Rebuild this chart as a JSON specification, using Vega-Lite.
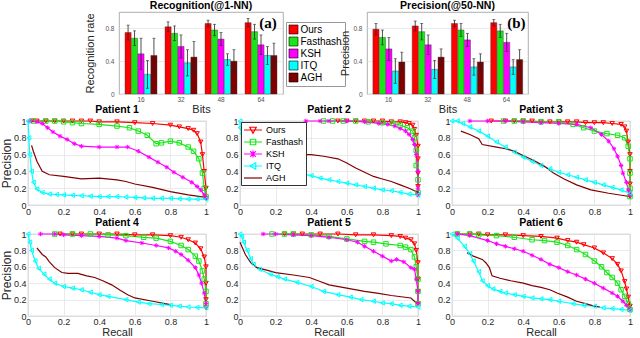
{
"$schema": "https://vega.github.io/schema/vega-lite/v6.json",
"padding": {"left": 0, "top": 0, "right": 2, "bottom": 0},
"background": "white",
"config": {
  "font": "Liberation Sans",
  "view": {"stroke": "#9a9a9a", "strokeWidth": 0.8},
  "axis": {"domain": false, "ticks": false, "gridColor": "#e4e4e4", "gridWidth": 0.8, "labelColor": "#262626", "titleColor": "#262626", "titleFontWeight": "normal"},
  "title": {"fontSize": 10.5, "fontWeight": "bold", "offset": 1, "color": "#000"}
},
"datasets": {
"bars": [
{"c":"a","bits":"16","m":"Ours","v":0.75,"lo":0.66,"hi":0.84},
{"c":"a","bits":"16","m":"Fasthash","v":0.68,"lo":0.59,"hi":0.77},
{"c":"a","bits":"16","m":"KSH","v":0.49,"lo":0.30,"hi":0.68},
{"c":"a","bits":"16","m":"ITQ","v":0.24,"lo":0.07,"hi":0.41},
{"c":"a","bits":"16","m":"AGH","v":0.47,"lo":0.26,"hi":0.68},
{"c":"a","bits":"32","m":"Ours","v":0.82,"lo":0.76,"hi":0.88},
{"c":"a","bits":"32","m":"Fasthash","v":0.74,"lo":0.65,"hi":0.83},
{"c":"a","bits":"32","m":"KSH","v":0.58,"lo":0.44,"hi":0.72},
{"c":"a","bits":"32","m":"ITQ","v":0.38,"lo":0.22,"hi":0.54},
{"c":"a","bits":"32","m":"AGH","v":0.45,"lo":0.26,"hi":0.64},
{"c":"a","bits":"48","m":"Ours","v":0.86,"lo":0.82,"hi":0.90},
{"c":"a","bits":"48","m":"Fasthash","v":0.78,"lo":0.71,"hi":0.85},
{"c":"a","bits":"48","m":"KSH","v":0.67,"lo":0.59,"hi":0.75},
{"c":"a","bits":"48","m":"ITQ","v":0.42,"lo":0.35,"hi":0.49},
{"c":"a","bits":"48","m":"AGH","v":0.40,"lo":0.26,"hi":0.54},
{"c":"a","bits":"64","m":"Ours","v":0.87,"lo":0.82,"hi":0.92},
{"c":"a","bits":"64","m":"Fasthash","v":0.76,"lo":0.67,"hi":0.85},
{"c":"a","bits":"64","m":"KSH","v":0.60,"lo":0.48,"hi":0.72},
{"c":"a","bits":"64","m":"ITQ","v":0.47,"lo":0.36,"hi":0.58},
{"c":"a","bits":"64","m":"AGH","v":0.47,"lo":0.32,"hi":0.62},
{"c":"b","bits":"16","m":"Ours","v":0.79,"lo":0.72,"hi":0.86},
{"c":"b","bits":"16","m":"Fasthash","v":0.69,"lo":0.60,"hi":0.78},
{"c":"b","bits":"16","m":"KSH","v":0.55,"lo":0.41,"hi":0.69},
{"c":"b","bits":"16","m":"ITQ","v":0.28,"lo":0.13,"hi":0.43},
{"c":"b","bits":"16","m":"AGH","v":0.39,"lo":0.27,"hi":0.51},
{"c":"b","bits":"32","m":"Ours","v":0.83,"lo":0.77,"hi":0.89},
{"c":"b","bits":"32","m":"Fasthash","v":0.76,"lo":0.66,"hi":0.86},
{"c":"b","bits":"32","m":"KSH","v":0.60,"lo":0.48,"hi":0.72},
{"c":"b","bits":"32","m":"ITQ","v":0.30,"lo":0.19,"hi":0.41},
{"c":"b","bits":"32","m":"AGH","v":0.45,"lo":0.35,"hi":0.55},
{"c":"b","bits":"48","m":"Ours","v":0.86,"lo":0.82,"hi":0.90},
{"c":"b","bits":"48","m":"Fasthash","v":0.78,"lo":0.70,"hi":0.86},
{"c":"b","bits":"48","m":"KSH","v":0.66,"lo":0.58,"hi":0.74},
{"c":"b","bits":"48","m":"ITQ","v":0.33,"lo":0.23,"hi":0.43},
{"c":"b","bits":"48","m":"AGH","v":0.39,"lo":0.29,"hi":0.49},
{"c":"b","bits":"64","m":"Ours","v":0.87,"lo":0.83,"hi":0.91},
{"c":"b","bits":"64","m":"Fasthash","v":0.77,"lo":0.69,"hi":0.85},
{"c":"b","bits":"64","m":"KSH","v":0.63,"lo":0.52,"hi":0.74},
{"c":"b","bits":"64","m":"ITQ","v":0.33,"lo":0.24,"hi":0.42},
{"c":"b","bits":"64","m":"AGH","v":0.42,"lo":0.30,"hi":0.54}
],
"pr": [
{"p":1,"m":"Ours","r":0.02,"v":1},{"p":1,"m":"Ours","r":0.05,"v":1},{"p":1,"m":"Ours","r":0.1,"v":1},{"p":1,"m":"Ours","r":0.15,"v":1},{"p":1,"m":"Ours","r":0.2,"v":1},{"p":1,"m":"Ours","r":0.25,"v":1},{"p":1,"m":"Ours","r":0.3,"v":1},{"p":1,"m":"Ours","r":0.35,"v":1},{"p":1,"m":"Ours","r":0.4,"v":0.99},{"p":1,"m":"Ours","r":0.5,"v":0.99},{"p":1,"m":"Ours","r":0.6,"v":0.98},{"p":1,"m":"Ours","r":0.7,"v":0.97},{"p":1,"m":"Ours","r":0.8,"v":0.95},{"p":1,"m":"Ours","r":0.85,"v":0.93},{"p":1,"m":"Ours","r":0.9,"v":0.91},{"p":1,"m":"Ours","r":0.93,"v":0.89},{"p":1,"m":"Ours","r":0.95,"v":0.85},{"p":1,"m":"Ours","r":0.97,"v":0.75},{"p":1,"m":"Ours","r":0.98,"v":0.6},{"p":1,"m":"Ours","r":0.99,"v":0.4},{"p":1,"m":"Ours","r":1,"v":0.2},{"p":1,"m":"Ours","r":1,"v":0.08},
{"p":1,"m":"Fasthash","r":0.03,"v":1},{"p":1,"m":"Fasthash","r":0.1,"v":1},{"p":1,"m":"Fasthash","r":0.15,"v":1},{"p":1,"m":"Fasthash","r":0.2,"v":0.99},{"p":1,"m":"Fasthash","r":0.25,"v":0.98},{"p":1,"m":"Fasthash","r":0.3,"v":0.97},{"p":1,"m":"Fasthash","r":0.4,"v":0.96},{"p":1,"m":"Fasthash","r":0.5,"v":0.94},{"p":1,"m":"Fasthash","r":0.57,"v":0.92},{"p":1,"m":"Fasthash","r":0.62,"v":0.88},{"p":1,"m":"Fasthash","r":0.67,"v":0.83},{"p":1,"m":"Fasthash","r":0.72,"v":0.73},{"p":1,"m":"Fasthash","r":0.75,"v":0.74},{"p":1,"m":"Fasthash","r":0.8,"v":0.76},{"p":1,"m":"Fasthash","r":0.85,"v":0.74},{"p":1,"m":"Fasthash","r":0.9,"v":0.69},{"p":1,"m":"Fasthash","r":0.93,"v":0.64},{"p":1,"m":"Fasthash","r":0.96,"v":0.55},{"p":1,"m":"Fasthash","r":0.98,"v":0.38},{"p":1,"m":"Fasthash","r":0.99,"v":0.2},{"p":1,"m":"Fasthash","r":1,"v":0.1},
{"p":1,"m":"KSH","r":0.01,"v":1},{"p":1,"m":"KSH","r":0.05,"v":0.99},{"p":1,"m":"KSH","r":0.08,"v":0.97},{"p":1,"m":"KSH","r":0.11,"v":0.92},{"p":1,"m":"KSH","r":0.14,"v":0.87},{"p":1,"m":"KSH","r":0.18,"v":0.82},{"p":1,"m":"KSH","r":0.22,"v":0.78},{"p":1,"m":"KSH","r":0.26,"v":0.73},{"p":1,"m":"KSH","r":0.3,"v":0.7},{"p":1,"m":"KSH","r":0.4,"v":0.69},{"p":1,"m":"KSH","r":0.5,"v":0.69},{"p":1,"m":"KSH","r":0.56,"v":0.69},{"p":1,"m":"KSH","r":0.62,"v":0.64},{"p":1,"m":"KSH","r":0.68,"v":0.57},{"p":1,"m":"KSH","r":0.73,"v":0.51},{"p":1,"m":"KSH","r":0.78,"v":0.45},{"p":1,"m":"KSH","r":0.82,"v":0.39},{"p":1,"m":"KSH","r":0.87,"v":0.33},{"p":1,"m":"KSH","r":0.92,"v":0.27},{"p":1,"m":"KSH","r":0.95,"v":0.22},{"p":1,"m":"KSH","r":0.97,"v":0.18},{"p":1,"m":"KSH","r":0.99,"v":0.12},{"p":1,"m":"KSH","r":1,"v":0.08},
{"p":1,"m":"ITQ","r":0,"v":1},{"p":1,"m":"ITQ","r":0.005,"v":0.8},{"p":1,"m":"ITQ","r":0.01,"v":0.6},{"p":1,"m":"ITQ","r":0.02,"v":0.4},{"p":1,"m":"ITQ","r":0.03,"v":0.27},{"p":1,"m":"ITQ","r":0.05,"v":0.19},{"p":1,"m":"ITQ","r":0.08,"v":0.15},{"p":1,"m":"ITQ","r":0.12,"v":0.13},{"p":1,"m":"ITQ","r":0.16,"v":0.125},{"p":1,"m":"ITQ","r":0.2,"v":0.12},{"p":1,"m":"ITQ","r":0.25,"v":0.115},{"p":1,"m":"ITQ","r":0.3,"v":0.11},{"p":1,"m":"ITQ","r":0.35,"v":0.105},{"p":1,"m":"ITQ","r":0.4,"v":0.1},{"p":1,"m":"ITQ","r":0.45,"v":0.1},{"p":1,"m":"ITQ","r":0.5,"v":0.1},{"p":1,"m":"ITQ","r":0.55,"v":0.095},{"p":1,"m":"ITQ","r":0.6,"v":0.09},{"p":1,"m":"ITQ","r":0.65,"v":0.085},{"p":1,"m":"ITQ","r":0.7,"v":0.08},{"p":1,"m":"ITQ","r":0.75,"v":0.08},{"p":1,"m":"ITQ","r":0.8,"v":0.08},{"p":1,"m":"ITQ","r":0.85,"v":0.075},{"p":1,"m":"ITQ","r":0.9,"v":0.07},{"p":1,"m":"ITQ","r":0.95,"v":0.07},{"p":1,"m":"ITQ","r":1,"v":0.07},
{"p":1,"m":"AGH","r":0.02,"v":0.71},{"p":1,"m":"AGH","r":0.03,"v":0.64},{"p":1,"m":"AGH","r":0.05,"v":0.52},{"p":1,"m":"AGH","r":0.07,"v":0.44},{"p":1,"m":"AGH","r":0.08,"v":0.4},{"p":1,"m":"AGH","r":0.12,"v":0.36},{"p":1,"m":"AGH","r":0.2,"v":0.34},{"p":1,"m":"AGH","r":0.3,"v":0.31},{"p":1,"m":"AGH","r":0.4,"v":0.32},{"p":1,"m":"AGH","r":0.5,"v":0.3},{"p":1,"m":"AGH","r":0.55,"v":0.28},{"p":1,"m":"AGH","r":0.6,"v":0.25},{"p":1,"m":"AGH","r":0.7,"v":0.21},{"p":1,"m":"AGH","r":0.8,"v":0.16},{"p":1,"m":"AGH","r":0.9,"v":0.12},{"p":1,"m":"AGH","r":1,"v":0.09},
{"p":2,"m":"Ours","r":0.55,"v":1},{"p":2,"m":"Ours","r":0.6,"v":1},{"p":2,"m":"Ours","r":0.65,"v":1},{"p":2,"m":"Ours","r":0.7,"v":1},{"p":2,"m":"Ours","r":0.75,"v":1},{"p":2,"m":"Ours","r":0.8,"v":1},{"p":2,"m":"Ours","r":0.85,"v":0.99},{"p":2,"m":"Ours","r":0.9,"v":0.99},{"p":2,"m":"Ours","r":0.93,"v":0.98},{"p":2,"m":"Ours","r":0.95,"v":0.97},{"p":2,"m":"Ours","r":0.97,"v":0.95},{"p":2,"m":"Ours","r":0.98,"v":0.9},{"p":2,"m":"Ours","r":0.99,"v":0.83},{"p":2,"m":"Ours","r":1,"v":0.7},{"p":2,"m":"Ours","r":1,"v":0.55},{"p":2,"m":"Ours","r":1,"v":0.38},{"p":2,"m":"Ours","r":1,"v":0.22},{"p":2,"m":"Ours","r":1,"v":0.12},
{"p":2,"m":"Fasthash","r":0.47,"v":1},{"p":2,"m":"Fasthash","r":0.52,"v":1},{"p":2,"m":"Fasthash","r":0.58,"v":1},{"p":2,"m":"Fasthash","r":0.65,"v":1},{"p":2,"m":"Fasthash","r":0.72,"v":0.99},{"p":2,"m":"Fasthash","r":0.8,"v":0.98},{"p":2,"m":"Fasthash","r":0.86,"v":0.97},{"p":2,"m":"Fasthash","r":0.9,"v":0.95},{"p":2,"m":"Fasthash","r":0.94,"v":0.92},{"p":2,"m":"Fasthash","r":0.97,"v":0.88},{"p":2,"m":"Fasthash","r":0.98,"v":0.8},{"p":2,"m":"Fasthash","r":0.99,"v":0.65},{"p":2,"m":"Fasthash","r":0.99,"v":0.47},{"p":2,"m":"Fasthash","r":1,"v":0.3},{"p":2,"m":"Fasthash","r":1,"v":0.15},
{"p":2,"m":"KSH","r":0.37,"v":1},{"p":2,"m":"KSH","r":0.45,"v":1},{"p":2,"m":"KSH","r":0.5,"v":1},{"p":2,"m":"KSH","r":0.6,"v":1},{"p":2,"m":"KSH","r":0.7,"v":0.99},{"p":2,"m":"KSH","r":0.78,"v":0.97},{"p":2,"m":"KSH","r":0.83,"v":0.96},{"p":2,"m":"KSH","r":0.87,"v":0.94},{"p":2,"m":"KSH","r":0.9,"v":0.91},{"p":2,"m":"KSH","r":0.93,"v":0.88},{"p":2,"m":"KSH","r":0.95,"v":0.84},{"p":2,"m":"KSH","r":0.97,"v":0.78},{"p":2,"m":"KSH","r":0.98,"v":0.72},{"p":2,"m":"KSH","r":0.99,"v":0.6},{"p":2,"m":"KSH","r":1,"v":0.4},{"p":2,"m":"KSH","r":1,"v":0.2},{"p":2,"m":"KSH","r":1,"v":0.12},
{"p":2,"m":"ITQ","r":0,"v":1},{"p":2,"m":"ITQ","r":0,"v":0.92},{"p":2,"m":"ITQ","r":0.01,"v":0.85},{"p":2,"m":"ITQ","r":0.02,"v":0.75},{"p":2,"m":"ITQ","r":0.05,"v":0.6},{"p":2,"m":"ITQ","r":0.1,"v":0.5},{"p":2,"m":"ITQ","r":0.2,"v":0.43},{"p":2,"m":"ITQ","r":0.3,"v":0.39},{"p":2,"m":"ITQ","r":0.35,"v":0.37},{"p":2,"m":"ITQ","r":0.4,"v":0.35},{"p":2,"m":"ITQ","r":0.45,"v":0.32},{"p":2,"m":"ITQ","r":0.5,"v":0.3},{"p":2,"m":"ITQ","r":0.55,"v":0.28},{"p":2,"m":"ITQ","r":0.6,"v":0.26},{"p":2,"m":"ITQ","r":0.65,"v":0.24},{"p":2,"m":"ITQ","r":0.7,"v":0.22},{"p":2,"m":"ITQ","r":0.75,"v":0.2},{"p":2,"m":"ITQ","r":0.8,"v":0.18},{"p":2,"m":"ITQ","r":0.85,"v":0.17},{"p":2,"m":"ITQ","r":0.9,"v":0.15},{"p":2,"m":"ITQ","r":0.95,"v":0.13},{"p":2,"m":"ITQ","r":1,"v":0.12},
{"p":2,"m":"AGH","r":0.03,"v":0.7},{"p":2,"m":"AGH","r":0.1,"v":0.64},{"p":2,"m":"AGH","r":0.2,"v":0.62},{"p":2,"m":"AGH","r":0.3,"v":0.6},{"p":2,"m":"AGH","r":0.4,"v":0.6},{"p":2,"m":"AGH","r":0.47,"v":0.58},{"p":2,"m":"AGH","r":0.55,"v":0.55},{"p":2,"m":"AGH","r":0.6,"v":0.5},{"p":2,"m":"AGH","r":0.65,"v":0.44},{"p":2,"m":"AGH","r":0.7,"v":0.39},{"p":2,"m":"AGH","r":0.75,"v":0.34},{"p":2,"m":"AGH","r":0.8,"v":0.31},{"p":2,"m":"AGH","r":0.85,"v":0.28},{"p":2,"m":"AGH","r":0.9,"v":0.24},{"p":2,"m":"AGH","r":0.95,"v":0.2},{"p":2,"m":"AGH","r":0.98,"v":0.17},{"p":2,"m":"AGH","r":1,"v":0.15},
{"p":3,"m":"Ours","r":0.22,"v":1},{"p":3,"m":"Ours","r":0.3,"v":1},{"p":3,"m":"Ours","r":0.35,"v":1},{"p":3,"m":"Ours","r":0.4,"v":1},{"p":3,"m":"Ours","r":0.45,"v":1},{"p":3,"m":"Ours","r":0.5,"v":0.99},{"p":3,"m":"Ours","r":0.55,"v":0.99},{"p":3,"m":"Ours","r":0.6,"v":0.99},{"p":3,"m":"Ours","r":0.65,"v":0.99},{"p":3,"m":"Ours","r":0.7,"v":0.99},{"p":3,"m":"Ours","r":0.75,"v":0.98},{"p":3,"m":"Ours","r":0.8,"v":0.98},{"p":3,"m":"Ours","r":0.85,"v":0.98},{"p":3,"m":"Ours","r":0.9,"v":0.97},{"p":3,"m":"Ours","r":0.95,"v":0.96},{"p":3,"m":"Ours","r":0.97,"v":0.93},{"p":3,"m":"Ours","r":0.98,"v":0.88},{"p":3,"m":"Ours","r":0.99,"v":0.75},{"p":3,"m":"Ours","r":1,"v":0.6},{"p":3,"m":"Ours","r":1,"v":0.4},{"p":3,"m":"Ours","r":1,"v":0.25},{"p":3,"m":"Ours","r":1,"v":0.15},{"p":3,"m":"Ours","r":1,"v":0.1},
{"p":3,"m":"Fasthash","r":0.29,"v":1},{"p":3,"m":"Fasthash","r":0.35,"v":1},{"p":3,"m":"Fasthash","r":0.4,"v":1},{"p":3,"m":"Fasthash","r":0.5,"v":0.99},{"p":3,"m":"Fasthash","r":0.6,"v":0.99},{"p":3,"m":"Fasthash","r":0.68,"v":0.96},{"p":3,"m":"Fasthash","r":0.74,"v":0.92},{"p":3,"m":"Fasthash","r":0.8,"v":0.88},{"p":3,"m":"Fasthash","r":0.87,"v":0.85},{"p":3,"m":"Fasthash","r":0.93,"v":0.83},{"p":3,"m":"Fasthash","r":0.97,"v":0.8},{"p":3,"m":"Fasthash","r":0.99,"v":0.7},{"p":3,"m":"Fasthash","r":1,"v":0.55},{"p":3,"m":"Fasthash","r":1,"v":0.38},{"p":3,"m":"Fasthash","r":1,"v":0.2},{"p":3,"m":"Fasthash","r":1,"v":0.1},
{"p":3,"m":"KSH","r":0.1,"v":1},{"p":3,"m":"KSH","r":0.2,"v":1},{"p":3,"m":"KSH","r":0.3,"v":1},{"p":3,"m":"KSH","r":0.4,"v":0.99},{"p":3,"m":"KSH","r":0.5,"v":0.98},{"p":3,"m":"KSH","r":0.6,"v":0.97},{"p":3,"m":"KSH","r":0.7,"v":0.96},{"p":3,"m":"KSH","r":0.78,"v":0.92},{"p":3,"m":"KSH","r":0.84,"v":0.84},{"p":3,"m":"KSH","r":0.88,"v":0.76},{"p":3,"m":"KSH","r":0.91,"v":0.67},{"p":3,"m":"KSH","r":0.93,"v":0.58},{"p":3,"m":"KSH","r":0.95,"v":0.47},{"p":3,"m":"KSH","r":0.96,"v":0.38},{"p":3,"m":"KSH","r":0.98,"v":0.27},{"p":3,"m":"KSH","r":0.99,"v":0.18},{"p":3,"m":"KSH","r":1,"v":0.12},
{"p":3,"m":"ITQ","r":0,"v":1},{"p":3,"m":"ITQ","r":0.03,"v":1},{"p":3,"m":"ITQ","r":0.06,"v":0.97},{"p":3,"m":"ITQ","r":0.1,"v":0.93},{"p":3,"m":"ITQ","r":0.15,"v":0.88},{"p":3,"m":"ITQ","r":0.2,"v":0.82},{"p":3,"m":"ITQ","r":0.25,"v":0.75},{"p":3,"m":"ITQ","r":0.3,"v":0.69},{"p":3,"m":"ITQ","r":0.35,"v":0.63},{"p":3,"m":"ITQ","r":0.4,"v":0.57},{"p":3,"m":"ITQ","r":0.45,"v":0.52},{"p":3,"m":"ITQ","r":0.5,"v":0.47},{"p":3,"m":"ITQ","r":0.55,"v":0.43},{"p":3,"m":"ITQ","r":0.6,"v":0.39},{"p":3,"m":"ITQ","r":0.65,"v":0.36},{"p":3,"m":"ITQ","r":0.7,"v":0.33},{"p":3,"m":"ITQ","r":0.75,"v":0.3},{"p":3,"m":"ITQ","r":0.8,"v":0.27},{"p":3,"m":"ITQ","r":0.85,"v":0.24},{"p":3,"m":"ITQ","r":0.9,"v":0.21},{"p":3,"m":"ITQ","r":0.95,"v":0.18},{"p":3,"m":"ITQ","r":1,"v":0.14},
{"p":3,"m":"AGH","r":0.05,"v":0.88},{"p":3,"m":"AGH","r":0.1,"v":0.84},{"p":3,"m":"AGH","r":0.15,"v":0.79},{"p":3,"m":"AGH","r":0.17,"v":0.72},{"p":3,"m":"AGH","r":0.25,"v":0.69},{"p":3,"m":"AGH","r":0.3,"v":0.67},{"p":3,"m":"AGH","r":0.35,"v":0.64},{"p":3,"m":"AGH","r":0.4,"v":0.59},{"p":3,"m":"AGH","r":0.46,"v":0.53},{"p":3,"m":"AGH","r":0.52,"v":0.46},{"p":3,"m":"AGH","r":0.57,"v":0.38},{"p":3,"m":"AGH","r":0.63,"v":0.31},{"p":3,"m":"AGH","r":0.7,"v":0.24},{"p":3,"m":"AGH","r":0.78,"v":0.18},{"p":3,"m":"AGH","r":0.88,"v":0.14},{"p":3,"m":"AGH","r":0.97,"v":0.11},{"p":3,"m":"AGH","r":1,"v":0.1},
{"p":4,"m":"Ours","r":0.18,"v":1},{"p":4,"m":"Ours","r":0.25,"v":1},{"p":4,"m":"Ours","r":0.3,"v":1},{"p":4,"m":"Ours","r":0.4,"v":1},{"p":4,"m":"Ours","r":0.5,"v":1},{"p":4,"m":"Ours","r":0.6,"v":0.99},{"p":4,"m":"Ours","r":0.7,"v":0.99},{"p":4,"m":"Ours","r":0.8,"v":0.98},{"p":4,"m":"Ours","r":0.86,"v":0.96},{"p":4,"m":"Ours","r":0.9,"v":0.93},{"p":4,"m":"Ours","r":0.94,"v":0.89},{"p":4,"m":"Ours","r":0.97,"v":0.82},{"p":4,"m":"Ours","r":0.99,"v":0.72},{"p":4,"m":"Ours","r":1,"v":0.6},{"p":4,"m":"Ours","r":1,"v":0.4},{"p":4,"m":"Ours","r":1,"v":0.2},{"p":4,"m":"Ours","r":1,"v":0.1},
{"p":4,"m":"Fasthash","r":0.15,"v":1},{"p":4,"m":"Fasthash","r":0.25,"v":1},{"p":4,"m":"Fasthash","r":0.35,"v":1},{"p":4,"m":"Fasthash","r":0.45,"v":0.99},{"p":4,"m":"Fasthash","r":0.55,"v":0.98},{"p":4,"m":"Fasthash","r":0.65,"v":0.96},{"p":4,"m":"Fasthash","r":0.72,"v":0.95},{"p":4,"m":"Fasthash","r":0.8,"v":0.91},{"p":4,"m":"Fasthash","r":0.86,"v":0.86},{"p":4,"m":"Fasthash","r":0.9,"v":0.81},{"p":4,"m":"Fasthash","r":0.94,"v":0.73},{"p":4,"m":"Fasthash","r":0.96,"v":0.67},{"p":4,"m":"Fasthash","r":0.98,"v":0.55},{"p":4,"m":"Fasthash","r":0.99,"v":0.45},{"p":4,"m":"Fasthash","r":1,"v":0.3},{"p":4,"m":"Fasthash","r":1,"v":0.15},
{"p":4,"m":"KSH","r":0.07,"v":1},{"p":4,"m":"KSH","r":0.15,"v":1},{"p":4,"m":"KSH","r":0.2,"v":0.99},{"p":4,"m":"KSH","r":0.3,"v":0.98},{"p":4,"m":"KSH","r":0.4,"v":0.97},{"p":4,"m":"KSH","r":0.5,"v":0.95},{"p":4,"m":"KSH","r":0.55,"v":0.92},{"p":4,"m":"KSH","r":0.64,"v":0.89},{"p":4,"m":"KSH","r":0.72,"v":0.86},{"p":4,"m":"KSH","r":0.79,"v":0.83},{"p":4,"m":"KSH","r":0.83,"v":0.79},{"p":4,"m":"KSH","r":0.86,"v":0.75},{"p":4,"m":"KSH","r":0.9,"v":0.68},{"p":4,"m":"KSH","r":0.94,"v":0.59},{"p":4,"m":"KSH","r":0.96,"v":0.5},{"p":4,"m":"KSH","r":0.975,"v":0.4},{"p":4,"m":"KSH","r":0.99,"v":0.28},{"p":4,"m":"KSH","r":1,"v":0.15},
{"p":4,"m":"ITQ","r":0,"v":1},{"p":4,"m":"ITQ","r":0.01,"v":0.9},{"p":4,"m":"ITQ","r":0.02,"v":0.8},{"p":4,"m":"ITQ","r":0.04,"v":0.67},{"p":4,"m":"ITQ","r":0.06,"v":0.58},{"p":4,"m":"ITQ","r":0.09,"v":0.51},{"p":4,"m":"ITQ","r":0.12,"v":0.45},{"p":4,"m":"ITQ","r":0.15,"v":0.4},{"p":4,"m":"ITQ","r":0.2,"v":0.36},{"p":4,"m":"ITQ","r":0.25,"v":0.34},{"p":4,"m":"ITQ","r":0.3,"v":0.32},{"p":4,"m":"ITQ","r":0.35,"v":0.29},{"p":4,"m":"ITQ","r":0.4,"v":0.26},{"p":4,"m":"ITQ","r":0.45,"v":0.24},{"p":4,"m":"ITQ","r":0.55,"v":0.2},{"p":4,"m":"ITQ","r":0.62,"v":0.17},{"p":4,"m":"ITQ","r":0.68,"v":0.15},{"p":4,"m":"ITQ","r":0.75,"v":0.14},{"p":4,"m":"ITQ","r":0.8,"v":0.13},{"p":4,"m":"ITQ","r":0.85,"v":0.12},{"p":4,"m":"ITQ","r":0.9,"v":0.11},{"p":4,"m":"ITQ","r":0.95,"v":0.105},{"p":4,"m":"ITQ","r":1,"v":0.1},
{"p":4,"m":"AGH","r":0.05,"v":0.83},{"p":4,"m":"AGH","r":0.08,"v":0.75},{"p":4,"m":"AGH","r":0.1,"v":0.72},{"p":4,"m":"AGH","r":0.12,"v":0.66},{"p":4,"m":"AGH","r":0.15,"v":0.59},{"p":4,"m":"AGH","r":0.19,"v":0.53},{"p":4,"m":"AGH","r":0.225,"v":0.52},{"p":4,"m":"AGH","r":0.28,"v":0.52},{"p":4,"m":"AGH","r":0.33,"v":0.49},{"p":4,"m":"AGH","r":0.375,"v":0.47},{"p":4,"m":"AGH","r":0.42,"v":0.43},{"p":4,"m":"AGH","r":0.47,"v":0.38},{"p":4,"m":"AGH","r":0.52,"v":0.31},{"p":4,"m":"AGH","r":0.56,"v":0.26},{"p":4,"m":"AGH","r":0.6,"v":0.22},{"p":4,"m":"AGH","r":0.7,"v":0.18},{"p":4,"m":"AGH","r":0.77,"v":0.15},{"p":4,"m":"AGH","r":0.8,"v":0.14},
{"p":5,"m":"Ours","r":0.25,"v":1},{"p":5,"m":"Ours","r":0.3,"v":1},{"p":5,"m":"Ours","r":0.35,"v":1},{"p":5,"m":"Ours","r":0.45,"v":1},{"p":5,"m":"Ours","r":0.55,"v":1},{"p":5,"m":"Ours","r":0.65,"v":0.99},{"p":5,"m":"Ours","r":0.75,"v":0.99},{"p":5,"m":"Ours","r":0.85,"v":0.98},{"p":5,"m":"Ours","r":0.9,"v":0.97},{"p":5,"m":"Ours","r":0.93,"v":0.95},{"p":5,"m":"Ours","r":0.96,"v":0.93},{"p":5,"m":"Ours","r":0.98,"v":0.88},{"p":5,"m":"Ours","r":0.99,"v":0.8},{"p":5,"m":"Ours","r":1,"v":0.65},{"p":5,"m":"Ours","r":1,"v":0.45},{"p":5,"m":"Ours","r":1,"v":0.3},{"p":5,"m":"Ours","r":1,"v":0.15},
{"p":5,"m":"Fasthash","r":0.18,"v":1},{"p":5,"m":"Fasthash","r":0.25,"v":1},{"p":5,"m":"Fasthash","r":0.3,"v":1},{"p":5,"m":"Fasthash","r":0.4,"v":0.99},{"p":5,"m":"Fasthash","r":0.5,"v":0.97},{"p":5,"m":"Fasthash","r":0.6,"v":0.94},{"p":5,"m":"Fasthash","r":0.7,"v":0.91},{"p":5,"m":"Fasthash","r":0.75,"v":0.9},{"p":5,"m":"Fasthash","r":0.82,"v":0.88},{"p":5,"m":"Fasthash","r":0.9,"v":0.86},{"p":5,"m":"Fasthash","r":0.93,"v":0.84},{"p":5,"m":"Fasthash","r":0.96,"v":0.81},{"p":5,"m":"Fasthash","r":0.98,"v":0.72},{"p":5,"m":"Fasthash","r":0.99,"v":0.6},{"p":5,"m":"Fasthash","r":1,"v":0.45},{"p":5,"m":"Fasthash","r":1,"v":0.3},{"p":5,"m":"Fasthash","r":1,"v":0.15},
{"p":5,"m":"KSH","r":0.13,"v":1},{"p":5,"m":"KSH","r":0.2,"v":1},{"p":5,"m":"KSH","r":0.3,"v":0.99},{"p":5,"m":"KSH","r":0.4,"v":0.98},{"p":5,"m":"KSH","r":0.5,"v":0.96},{"p":5,"m":"KSH","r":0.6,"v":0.93},{"p":5,"m":"KSH","r":0.66,"v":0.9},{"p":5,"m":"KSH","r":0.7,"v":0.85},{"p":5,"m":"KSH","r":0.75,"v":0.79},{"p":5,"m":"KSH","r":0.8,"v":0.73},{"p":5,"m":"KSH","r":0.85,"v":0.67},{"p":5,"m":"KSH","r":0.88,"v":0.69},{"p":5,"m":"KSH","r":0.92,"v":0.66},{"p":5,"m":"KSH","r":0.96,"v":0.59},{"p":5,"m":"KSH","r":0.98,"v":0.57},{"p":5,"m":"KSH","r":0.99,"v":0.45},{"p":5,"m":"KSH","r":1,"v":0.3},{"p":5,"m":"KSH","r":1,"v":0.15},
{"p":5,"m":"ITQ","r":0,"v":1},{"p":5,"m":"ITQ","r":0.01,"v":0.97},{"p":5,"m":"ITQ","r":0.02,"v":0.9},{"p":5,"m":"ITQ","r":0.04,"v":0.8},{"p":5,"m":"ITQ","r":0.06,"v":0.7},{"p":5,"m":"ITQ","r":0.075,"v":0.63},{"p":5,"m":"ITQ","r":0.11,"v":0.57},{"p":5,"m":"ITQ","r":0.17,"v":0.51},{"p":5,"m":"ITQ","r":0.21,"v":0.48},{"p":5,"m":"ITQ","r":0.25,"v":0.45},{"p":5,"m":"ITQ","r":0.32,"v":0.41},{"p":5,"m":"ITQ","r":0.4,"v":0.36},{"p":5,"m":"ITQ","r":0.47,"v":0.3},{"p":5,"m":"ITQ","r":0.55,"v":0.26},{"p":5,"m":"ITQ","r":0.62,"v":0.23},{"p":5,"m":"ITQ","r":0.68,"v":0.2},{"p":5,"m":"ITQ","r":0.75,"v":0.18},{"p":5,"m":"ITQ","r":0.8,"v":0.16},{"p":5,"m":"ITQ","r":0.85,"v":0.15},{"p":5,"m":"ITQ","r":0.9,"v":0.13},{"p":5,"m":"ITQ","r":0.95,"v":0.12},{"p":5,"m":"ITQ","r":1,"v":0.11},
{"p":5,"m":"AGH","r":0,"v":0.9},{"p":5,"m":"AGH","r":0.03,"v":0.75},{"p":5,"m":"AGH","r":0.06,"v":0.65},{"p":5,"m":"AGH","r":0.094,"v":0.59},{"p":5,"m":"AGH","r":0.15,"v":0.56},{"p":5,"m":"AGH","r":0.2,"v":0.53},{"p":5,"m":"AGH","r":0.3,"v":0.5},{"p":5,"m":"AGH","r":0.39,"v":0.47},{"p":5,"m":"AGH","r":0.45,"v":0.42},{"p":5,"m":"AGH","r":0.5,"v":0.38},{"p":5,"m":"AGH","r":0.6,"v":0.34},{"p":5,"m":"AGH","r":0.7,"v":0.3},{"p":5,"m":"AGH","r":0.77,"v":0.28},{"p":5,"m":"AGH","r":0.85,"v":0.25},{"p":5,"m":"AGH","r":0.96,"v":0.22},{"p":5,"m":"AGH","r":1,"v":0.14},
{"p":6,"m":"Ours","r":0.03,"v":1},{"p":6,"m":"Ours","r":0.1,"v":1},{"p":6,"m":"Ours","r":0.15,"v":1},{"p":6,"m":"Ours","r":0.2,"v":0.99},{"p":6,"m":"Ours","r":0.3,"v":0.99},{"p":6,"m":"Ours","r":0.4,"v":0.98},{"p":6,"m":"Ours","r":0.5,"v":0.97},{"p":6,"m":"Ours","r":0.59,"v":0.95},{"p":6,"m":"Ours","r":0.65,"v":0.92},{"p":6,"m":"Ours","r":0.7,"v":0.9},{"p":6,"m":"Ours","r":0.74,"v":0.87},{"p":6,"m":"Ours","r":0.8,"v":0.83},{"p":6,"m":"Ours","r":0.85,"v":0.77},{"p":6,"m":"Ours","r":0.9,"v":0.7},{"p":6,"m":"Ours","r":0.93,"v":0.63},{"p":6,"m":"Ours","r":0.95,"v":0.55},{"p":6,"m":"Ours","r":0.97,"v":0.42},{"p":6,"m":"Ours","r":0.98,"v":0.33},{"p":6,"m":"Ours","r":0.99,"v":0.23},{"p":6,"m":"Ours","r":1,"v":0.12},{"p":6,"m":"Ours","r":1,"v":0.07},
{"p":6,"m":"Fasthash","r":0.03,"v":1},{"p":6,"m":"Fasthash","r":0.1,"v":1},{"p":6,"m":"Fasthash","r":0.15,"v":0.99},{"p":6,"m":"Fasthash","r":0.25,"v":0.98},{"p":6,"m":"Fasthash","r":0.35,"v":0.96},{"p":6,"m":"Fasthash","r":0.45,"v":0.93},{"p":6,"m":"Fasthash","r":0.52,"v":0.92},{"p":6,"m":"Fasthash","r":0.59,"v":0.9},{"p":6,"m":"Fasthash","r":0.65,"v":0.86},{"p":6,"m":"Fasthash","r":0.7,"v":0.81},{"p":6,"m":"Fasthash","r":0.75,"v":0.75},{"p":6,"m":"Fasthash","r":0.8,"v":0.67},{"p":6,"m":"Fasthash","r":0.84,"v":0.6},{"p":6,"m":"Fasthash","r":0.87,"v":0.53},{"p":6,"m":"Fasthash","r":0.9,"v":0.47},{"p":6,"m":"Fasthash","r":0.93,"v":0.4},{"p":6,"m":"Fasthash","r":0.95,"v":0.32},{"p":6,"m":"Fasthash","r":0.97,"v":0.24},{"p":6,"m":"Fasthash","r":0.99,"v":0.15},{"p":6,"m":"Fasthash","r":1,"v":0.08},
{"p":6,"m":"KSH","r":0.03,"v":1},{"p":6,"m":"KSH","r":0.1,"v":0.98},{"p":6,"m":"KSH","r":0.2,"v":0.92},{"p":6,"m":"KSH","r":0.25,"v":0.88},{"p":6,"m":"KSH","r":0.3,"v":0.85},{"p":6,"m":"KSH","r":0.35,"v":0.82},{"p":6,"m":"KSH","r":0.4,"v":0.79},{"p":6,"m":"KSH","r":0.45,"v":0.74},{"p":6,"m":"KSH","r":0.5,"v":0.69},{"p":6,"m":"KSH","r":0.55,"v":0.63},{"p":6,"m":"KSH","r":0.6,"v":0.59},{"p":6,"m":"KSH","r":0.65,"v":0.54},{"p":6,"m":"KSH","r":0.7,"v":0.5},{"p":6,"m":"KSH","r":0.75,"v":0.45},{"p":6,"m":"KSH","r":0.8,"v":0.4},{"p":6,"m":"KSH","r":0.85,"v":0.34},{"p":6,"m":"KSH","r":0.9,"v":0.28},{"p":6,"m":"KSH","r":0.93,"v":0.24},{"p":6,"m":"KSH","r":0.96,"v":0.18},{"p":6,"m":"KSH","r":0.98,"v":0.13},{"p":6,"m":"KSH","r":1,"v":0.08},
{"p":6,"m":"ITQ","r":0,"v":1},{"p":6,"m":"ITQ","r":0.03,"v":0.95},{"p":6,"m":"ITQ","r":0.07,"v":0.85},{"p":6,"m":"ITQ","r":0.1,"v":0.76},{"p":6,"m":"ITQ","r":0.12,"v":0.67},{"p":6,"m":"ITQ","r":0.15,"v":0.54},{"p":6,"m":"ITQ","r":0.17,"v":0.43},{"p":6,"m":"ITQ","r":0.2,"v":0.37},{"p":6,"m":"ITQ","r":0.23,"v":0.33},{"p":6,"m":"ITQ","r":0.27,"v":0.3},{"p":6,"m":"ITQ","r":0.3,"v":0.28},{"p":6,"m":"ITQ","r":0.35,"v":0.26},{"p":6,"m":"ITQ","r":0.4,"v":0.24},{"p":6,"m":"ITQ","r":0.45,"v":0.22},{"p":6,"m":"ITQ","r":0.5,"v":0.21},{"p":6,"m":"ITQ","r":0.55,"v":0.2},{"p":6,"m":"ITQ","r":0.6,"v":0.18},{"p":6,"m":"ITQ","r":0.68,"v":0.15},{"p":6,"m":"ITQ","r":0.74,"v":0.13},{"p":6,"m":"ITQ","r":0.8,"v":0.12},{"p":6,"m":"ITQ","r":0.85,"v":0.1},{"p":6,"m":"ITQ","r":0.9,"v":0.09},{"p":6,"m":"ITQ","r":0.95,"v":0.08},{"p":6,"m":"ITQ","r":1,"v":0.07},
{"p":6,"m":"AGH","r":0.084,"v":0.77},{"p":6,"m":"AGH","r":0.12,"v":0.73},{"p":6,"m":"AGH","r":0.17,"v":0.69},{"p":6,"m":"AGH","r":0.19,"v":0.65},{"p":6,"m":"AGH","r":0.21,"v":0.59},{"p":6,"m":"AGH","r":0.225,"v":0.49},{"p":6,"m":"AGH","r":0.27,"v":0.46},{"p":6,"m":"AGH","r":0.33,"v":0.43},{"p":6,"m":"AGH","r":0.4,"v":0.4},{"p":6,"m":"AGH","r":0.45,"v":0.37},{"p":6,"m":"AGH","r":0.5,"v":0.35},{"p":6,"m":"AGH","r":0.55,"v":0.32},{"p":6,"m":"AGH","r":0.59,"v":0.28},{"p":6,"m":"AGH","r":0.65,"v":0.23},{"p":6,"m":"AGH","r":0.7,"v":0.18},{"p":6,"m":"AGH","r":0.75,"v":0.15},{"p":6,"m":"AGH","r":0.8,"v":0.12},{"p":6,"m":"AGH","r":0.83,"v":0.11}
]
},
"resolve": {"scale": {"color": "independent", "shape": "independent"}},
"spacing": -11,
"vconcat": [
{
 "spacing": -7,
 "resolve": {"scale": {"color": "independent", "shape": "independent"}},
 "hconcat": [
  {"width": 63, "height": 10, "data": {"values": []}, "mark": "point", "view": {"stroke": null}},
  {
   "width": 164, "height": 82,
   "title": "Recognition(@1-NN)",
   "data": {"name": "bars"},
   "encoding": {"x": {"field": "bits", "type": "nominal", "sort": ["16","32","48","64"], "scale": {"paddingInner": 0.2, "paddingOuter": 0.15}, "axis": {"title": "Bits", "labelAngle": 0, "labelFontSize": 6.5, "labelColor": "#555", "labelPadding": 2, "titleFontSize": 11, "titlePadding": 1, "grid": false}}},
   "layer": [
    {"transform": [{"filter": "datum.c == 'a'"}], "mark": {"type": "bar", "stroke": "#333", "strokeWidth": 0.4},
     "encoding": {
      "xOffset": {"field": "m", "type": "nominal", "sort": ["Ours","Fasthash","KSH","ITQ","AGH"], "scale": {"paddingInner": 0.05}},
      "y": {"field": "v", "type": "quantitative", "scale": {"domain": [0,1], "nice": false}, "axis": {"values": [0,0.2,0.4,0.6,0.8,1], "format": "~g", "title": "Recognition rate", "labelFontSize": 6.5, "labelColor": "#555", "labelPadding": 5, "titleFontSize": 11, "titlePadding": 9}},
      "color": {"field": "m", "type": "nominal", "scale": {"domain": ["Ours","Fasthash","KSH","ITQ","AGH"], "range": ["#ff0000","#19e619","#ff00ff","#00ffff","#800000"]},
        "legend": {"orient": "none", "legendX": 167, "legendY": 10, "title": null, "symbolType": "square", "symbolSize": 81, "symbolStrokeColor": "#000", "symbolStrokeWidth": 0.6, "labelFontSize": 10, "labelOffset": 2, "rowPadding": 0, "padding": 2.5, "strokeColor": "#999", "fillColor": "#fff", "labelColor": "#000"}}
     }},
    {"transform": [{"filter": "datum.c == 'a'"}], "mark": {"type": "rule", "color": "#222", "strokeWidth": 0.8},
     "encoding": {"xOffset": {"field": "m", "type": "nominal", "sort": ["Ours","Fasthash","KSH","ITQ","AGH"]}, "y": {"field": "lo", "type": "quantitative"}, "y2": {"field": "hi"}}},
    {"transform": [{"filter": "datum.c == 'a'"}], "mark": {"type": "tick", "color": "#222", "thickness": 0.8, "size": 3},
     "encoding": {"xOffset": {"field": "m", "type": "nominal", "sort": ["Ours","Fasthash","KSH","ITQ","AGH"]}, "y": {"field": "lo", "type": "quantitative"}}},
    {"transform": [{"filter": "datum.c == 'a'"}], "mark": {"type": "tick", "color": "#222", "thickness": 0.8, "size": 3},
     "encoding": {"xOffset": {"field": "m", "type": "nominal", "sort": ["Ours","Fasthash","KSH","ITQ","AGH"]}, "y": {"field": "hi", "type": "quantitative"}}},
    {"data": {"values": [{"t": "(a)"}]}, "mark": {"type": "text", "font": "Liberation Serif", "fontWeight": "bold", "fontSize": 15, "dx": 7, "color": "#000"},
     "encoding": {"x": {"datum": "64"}, "y": {"datum": 0.87}, "text": {"field": "t"}}}
   ]
  },
  {
   "width": 161, "height": 82,
   "title": "Precision(@50-NN)",
   "data": {"name": "bars"},
   "encoding": {"x": {"field": "bits", "type": "nominal", "sort": ["16","32","48","64"], "scale": {"paddingInner": 0.2, "paddingOuter": 0.15}, "axis": {"title": "Bits", "labelAngle": 0, "labelFontSize": 6.5, "labelColor": "#555", "labelPadding": 2, "titleFontSize": 11, "titlePadding": 1, "grid": false}}},
   "layer": [
    {"transform": [{"filter": "datum.c == 'b'"}], "mark": {"type": "bar", "stroke": "#333", "strokeWidth": 0.4},
     "encoding": {
      "xOffset": {"field": "m", "type": "nominal", "sort": ["Ours","Fasthash","KSH","ITQ","AGH"], "scale": {"paddingInner": 0.05}},
      "y": {"field": "v", "type": "quantitative", "scale": {"domain": [0,1], "nice": false}, "axis": {"values": [0,0.2,0.4,0.6,0.8,1], "format": "~g", "title": "Precision", "labelFontSize": 6.5, "labelColor": "#555", "labelPadding": 5, "titleFontSize": 11, "titlePadding": 2}},
      "color": {"field": "m", "type": "nominal", "scale": {"domain": ["Ours","Fasthash","KSH","ITQ","AGH"], "range": ["#ff0000","#19e619","#ff00ff","#00ffff","#800000"]}, "legend": null}
     }},
    {"transform": [{"filter": "datum.c == 'b'"}], "mark": {"type": "rule", "color": "#222", "strokeWidth": 0.8},
     "encoding": {"xOffset": {"field": "m", "type": "nominal", "sort": ["Ours","Fasthash","KSH","ITQ","AGH"]}, "y": {"field": "lo", "type": "quantitative"}, "y2": {"field": "hi"}}},
    {"transform": [{"filter": "datum.c == 'b'"}], "mark": {"type": "tick", "color": "#222", "thickness": 0.8, "size": 3},
     "encoding": {"xOffset": {"field": "m", "type": "nominal", "sort": ["Ours","Fasthash","KSH","ITQ","AGH"]}, "y": {"field": "lo", "type": "quantitative"}}},
    {"transform": [{"filter": "datum.c == 'b'"}], "mark": {"type": "tick", "color": "#222", "thickness": 0.8, "size": 3},
     "encoding": {"xOffset": {"field": "m", "type": "nominal", "sort": ["Ours","Fasthash","KSH","ITQ","AGH"]}, "y": {"field": "hi", "type": "quantitative"}}},
    {"data": {"values": [{"t": "(b)"}]}, "mark": {"type": "text", "font": "Liberation Serif", "fontWeight": "bold", "fontSize": 15, "dx": 10, "color": "#000"},
     "encoding": {"x": {"datum": "64"}, "y": {"datum": 0.87}, "text": {"field": "t"}}}
   ]
  }
 ]
},
{
 "spacing": 0,
 "resolve": {"scale": {"color": "independent", "shape": "independent"}},
 "vconcat": [
 {
  "spacing": 14,
  "resolve": {"scale": {"color": "independent", "shape": "independent"}},
  "hconcat": [
   {
    "width": 178, "height": 84, "title": "Patient 1", "data": {"name": "pr"},
    "encoding": {
     "x": {"field": "r", "type": "quantitative", "scale": {"domain": [0,1], "nice": false}, "axis": {"values": [0,0.2,0.4,0.6,0.8,1], "format": "~g", "labelFlush": false, "labelFontSize": 9, "labelPadding": 2, "title": null}},
     "y": {"field": "v", "type": "quantitative", "scale": {"domain": [0,1], "nice": false}, "axis": {"values": [0,0.2,0.4,0.6,0.8,1], "format": "~g", "labelFontSize": 9, "labelPadding": 2, "title": "Precision", "titleFontSize": 12, "titlePadding": 0}}
    },
    "layer": [
     {"transform": [{"filter": "datum.p == 1"}], "mark": {"type": "line", "strokeWidth": 1.2}, "encoding": {"color": {"field": "m", "type": "nominal", "scale": {"domain": ["Ours","Fasthash","KSH","ITQ","AGH"], "range": ["#ff0000","#19e619","#ff00ff","#00ffff","#800000"]}, "legend": null}}},
     {"transform": [{"filter": "datum.p == 1 && datum.m != 'AGH'"}], "mark": {"type": "point", "filled": false, "size": 20, "strokeWidth": 1, "opacity": 1},
      "encoding": {"color": {"field": "m", "type": "nominal", "scale": {"domain": ["Ours","Fasthash","KSH","ITQ","AGH"], "range": ["#ff0000","#19e619","#ff00ff","#00ffff","#800000"]}, "legend": null},
       "shape": {"field": "m", "type": "nominal", "scale": {"domain": ["Ours","Fasthash","KSH","ITQ"], "range": ["triangle-down","square","M-1,0L1,0M0,-1L0,1M-0.7,-0.7L0.7,0.7M-0.7,0.7L0.7,-0.7","triangle-left"]}, "legend": null}}},
     {"data": {"values": [{"t": "(c)"}]}, "mark": {"type": "text", "font": "Liberation Serif", "fontWeight": "bold", "fontSize": 15, "color": "#000"}, "encoding": {"x": {"datum": 0.06}, "y": {"datum": 0.1}, "text": {"field": "t"}}}
    ]
   },
   {
    "width": 178, "height": 84, "title": "Patient 2", "data": {"name": "pr"},
    "resolve": {"scale": {"color": "independent", "shape": "independent"}},
    "encoding": {
     "x": {"field": "r", "type": "quantitative", "scale": {"domain": [0,1], "nice": false}, "axis": {"values": [0,0.2,0.4,0.6,0.8,1], "format": "~g", "labelFlush": false, "labelFontSize": 9, "labelPadding": 2, "title": null}},
     "y": {"field": "v", "type": "quantitative", "scale": {"domain": [0,1], "nice": false}, "axis": {"values": [0,0.2,0.4,0.6,0.8,1], "format": "~g", "labelFontSize": 9, "labelPadding": 2, "title": null}}
    },
    "layer": [
     {"transform": [{"filter": "datum.p == 2"}], "mark": {"type": "line", "strokeWidth": 1.2}, "encoding": {"color": {"field": "m", "type": "nominal", "scale": {"domain": ["Ours","Fasthash","KSH","ITQ","AGH"], "range": ["#ff0000","#19e619","#ff00ff","#00ffff","#800000"]}, "legend": null}}},
     {"transform": [{"filter": "datum.p == 2 && datum.m != 'AGH'"}], "mark": {"type": "point", "filled": false, "size": 20, "strokeWidth": 1, "opacity": 1},
      "encoding": {"color": {"field": "m", "type": "nominal", "scale": {"domain": ["Ours","Fasthash","KSH","ITQ","AGH"], "range": ["#ff0000","#19e619","#ff00ff","#00ffff","#800000"]}, "legend": null},
       "shape": {"field": "m", "type": "nominal", "scale": {"domain": ["Ours","Fasthash","KSH","ITQ"], "range": ["triangle-down","square","M-1,0L1,0M0,-1L0,1M-0.7,-0.7L0.7,0.7M-0.7,0.7L0.7,-0.7","triangle-left"]}, "legend": null}}},
     {"data": {"values": [{"t": "(d)"}]}, "mark": {"type": "text", "font": "Liberation Serif", "fontWeight": "bold", "fontSize": 15, "color": "#000"}, "encoding": {"x": {"datum": 0.06}, "y": {"datum": 0.1}, "text": {"field": "t"}}},
     {"transform": [{"filter": "false"}], "mark": {"type": "point", "filled": false, "opacity": 1},
      "encoding": {
       "color": {"field": "m", "type": "nominal", "scale": {"domain": ["Ours","Fasthash","KSH","ITQ","AGH"], "range": ["#ff0000","#19e619","#ff00ff","#00ffff","#800000"]},
         "legend": {"orient": "top-left", "offset": 1, "title": null, "strokeColor": "#333", "fillColor": "#fff", "padding": 2, "rowPadding": 0, "symbolSize": 100, "symbolOffset": 4, "symbolStrokeWidth": 1.2, "labelFontSize": 9, "labelOffset": 7, "labelColor": "#000"}},
       "shape": {"field": "m", "type": "nominal", "scale": {"domain": ["Ours","Fasthash","KSH","ITQ","AGH"], "range": ["M-1.8,0H1.8M-0.65,-0.55H0.65L0,0.65Z","M-1.8,0H1.8M-0.55,-0.55H0.55V0.55H-0.55Z","M-1.8,0H1.8M0,-0.7V0.7M-0.55,-0.55L0.55,0.55M-0.55,0.55L0.55,-0.55","M-1.8,0H1.8M-0.65,0L0.55,-0.65V0.65Z","M-1.8,0H1.8"]},
         "legend": {"orient": "top-left", "offset": 1, "title": null, "strokeColor": "#333", "fillColor": "#fff", "padding": 2, "rowPadding": 0, "symbolSize": 100, "symbolOffset": 4, "symbolStrokeWidth": 1.2, "labelFontSize": 9, "labelOffset": 7, "labelColor": "#000"}}
      }}
    ]
   },
   {
    "width": 178, "height": 84, "title": "Patient 3", "data": {"name": "pr"},
    "encoding": {
     "x": {"field": "r", "type": "quantitative", "scale": {"domain": [0,1], "nice": false}, "axis": {"values": [0,0.2,0.4,0.6,0.8,1], "format": "~g", "labelFlush": false, "labelFontSize": 9, "labelPadding": 2, "title": null}},
     "y": {"field": "v", "type": "quantitative", "scale": {"domain": [0,1], "nice": false}, "axis": {"values": [0,0.2,0.4,0.6,0.8,1], "format": "~g", "labelFontSize": 9, "labelPadding": 2, "title": null}}
    },
    "layer": [
     {"transform": [{"filter": "datum.p == 3"}], "mark": {"type": "line", "strokeWidth": 1.2}, "encoding": {"color": {"field": "m", "type": "nominal", "scale": {"domain": ["Ours","Fasthash","KSH","ITQ","AGH"], "range": ["#ff0000","#19e619","#ff00ff","#00ffff","#800000"]}, "legend": null}}},
     {"transform": [{"filter": "datum.p == 3 && datum.m != 'AGH'"}], "mark": {"type": "point", "filled": false, "size": 20, "strokeWidth": 1, "opacity": 1},
      "encoding": {"color": {"field": "m", "type": "nominal", "scale": {"domain": ["Ours","Fasthash","KSH","ITQ","AGH"], "range": ["#ff0000","#19e619","#ff00ff","#00ffff","#800000"]}, "legend": null},
       "shape": {"field": "m", "type": "nominal", "scale": {"domain": ["Ours","Fasthash","KSH","ITQ"], "range": ["triangle-down","square","M-1,0L1,0M0,-1L0,1M-0.7,-0.7L0.7,0.7M-0.7,0.7L0.7,-0.7","triangle-left"]}, "legend": null}}},
     {"data": {"values": [{"t": "(e)"}]}, "mark": {"type": "text", "font": "Liberation Serif", "fontWeight": "bold", "fontSize": 15, "color": "#000"}, "encoding": {"x": {"datum": 0.06}, "y": {"datum": 0.1}, "text": {"field": "t"}}}
    ]
   }
  ]
 },
 {
  "spacing": 14,
  "resolve": {"scale": {"color": "independent", "shape": "independent"}},
  "hconcat": [
   {
    "width": 178, "height": 82, "title": "Patient 4", "data": {"name": "pr"},
    "encoding": {
     "x": {"field": "r", "type": "quantitative", "scale": {"domain": [0,1], "nice": false}, "axis": {"values": [0,0.2,0.4,0.6,0.8,1], "format": "~g", "labelFlush": false, "labelFontSize": 9, "labelPadding": 1, "title": "Recall", "titleFontSize": 11, "titlePadding": 0}},
     "y": {"field": "v", "type": "quantitative", "scale": {"domain": [0,1], "nice": false}, "axis": {"values": [0,0.2,0.4,0.6,0.8,1], "format": "~g", "labelFontSize": 9, "labelPadding": 2, "title": "Precision", "titleFontSize": 12, "titlePadding": 0}}
    },
    "layer": [
     {"transform": [{"filter": "datum.p == 4"}], "mark": {"type": "line", "strokeWidth": 1.2}, "encoding": {"color": {"field": "m", "type": "nominal", "scale": {"domain": ["Ours","Fasthash","KSH","ITQ","AGH"], "range": ["#ff0000","#19e619","#ff00ff","#00ffff","#800000"]}, "legend": null}}},
     {"transform": [{"filter": "datum.p == 4 && datum.m != 'AGH'"}], "mark": {"type": "point", "filled": false, "size": 20, "strokeWidth": 1, "opacity": 1},
      "encoding": {"color": {"field": "m", "type": "nominal", "scale": {"domain": ["Ours","Fasthash","KSH","ITQ","AGH"], "range": ["#ff0000","#19e619","#ff00ff","#00ffff","#800000"]}, "legend": null},
       "shape": {"field": "m", "type": "nominal", "scale": {"domain": ["Ours","Fasthash","KSH","ITQ"], "range": ["triangle-down","square","M-1,0L1,0M0,-1L0,1M-0.7,-0.7L0.7,0.7M-0.7,0.7L0.7,-0.7","triangle-left"]}, "legend": null}}},
     {"data": {"values": [{"t": "(f)"}]}, "mark": {"type": "text", "font": "Liberation Serif", "fontWeight": "bold", "fontSize": 15, "color": "#000"}, "encoding": {"x": {"datum": 0.06}, "y": {"datum": 0.1}, "text": {"field": "t"}}}
    ]
   },
   {
    "width": 178, "height": 82, "title": "Patient 5", "data": {"name": "pr"},
    "encoding": {
     "x": {"field": "r", "type": "quantitative", "scale": {"domain": [0,1], "nice": false}, "axis": {"values": [0,0.2,0.4,0.6,0.8,1], "format": "~g", "labelFlush": false, "labelFontSize": 9, "labelPadding": 1, "title": "Recall", "titleFontSize": 11, "titlePadding": 0}},
     "y": {"field": "v", "type": "quantitative", "scale": {"domain": [0,1], "nice": false}, "axis": {"values": [0,0.2,0.4,0.6,0.8,1], "format": "~g", "labelFontSize": 9, "labelPadding": 2, "title": null}}
    },
    "layer": [
     {"transform": [{"filter": "datum.p == 5"}], "mark": {"type": "line", "strokeWidth": 1.2}, "encoding": {"color": {"field": "m", "type": "nominal", "scale": {"domain": ["Ours","Fasthash","KSH","ITQ","AGH"], "range": ["#ff0000","#19e619","#ff00ff","#00ffff","#800000"]}, "legend": null}}},
     {"transform": [{"filter": "datum.p == 5 && datum.m != 'AGH'"}], "mark": {"type": "point", "filled": false, "size": 20, "strokeWidth": 1, "opacity": 1},
      "encoding": {"color": {"field": "m", "type": "nominal", "scale": {"domain": ["Ours","Fasthash","KSH","ITQ","AGH"], "range": ["#ff0000","#19e619","#ff00ff","#00ffff","#800000"]}, "legend": null},
       "shape": {"field": "m", "type": "nominal", "scale": {"domain": ["Ours","Fasthash","KSH","ITQ"], "range": ["triangle-down","square","M-1,0L1,0M0,-1L0,1M-0.7,-0.7L0.7,0.7M-0.7,0.7L0.7,-0.7","triangle-left"]}, "legend": null}}},
     {"data": {"values": [{"t": "(g)"}]}, "mark": {"type": "text", "font": "Liberation Serif", "fontWeight": "bold", "fontSize": 15, "color": "#000"}, "encoding": {"x": {"datum": 0.06}, "y": {"datum": 0.1}, "text": {"field": "t"}}}
    ]
   },
   {
    "width": 178, "height": 82, "title": "Patient 6", "data": {"name": "pr"},
    "encoding": {
     "x": {"field": "r", "type": "quantitative", "scale": {"domain": [0,1], "nice": false}, "axis": {"values": [0,0.2,0.4,0.6,0.8,1], "format": "~g", "labelFlush": false, "labelFontSize": 9, "labelPadding": 1, "title": "Recall", "titleFontSize": 11, "titlePadding": 0}},
     "y": {"field": "v", "type": "quantitative", "scale": {"domain": [0,1], "nice": false}, "axis": {"values": [0,0.2,0.4,0.6,0.8,1], "format": "~g", "labelFontSize": 9, "labelPadding": 2, "title": null}}
    },
    "layer": [
     {"transform": [{"filter": "datum.p == 6"}], "mark": {"type": "line", "strokeWidth": 1.2}, "encoding": {"color": {"field": "m", "type": "nominal", "scale": {"domain": ["Ours","Fasthash","KSH","ITQ","AGH"], "range": ["#ff0000","#19e619","#ff00ff","#00ffff","#800000"]}, "legend": null}}},
     {"transform": [{"filter": "datum.p == 6 && datum.m != 'AGH'"}], "mark": {"type": "point", "filled": false, "size": 20, "strokeWidth": 1, "opacity": 1},
      "encoding": {"color": {"field": "m", "type": "nominal", "scale": {"domain": ["Ours","Fasthash","KSH","ITQ","AGH"], "range": ["#ff0000","#19e619","#ff00ff","#00ffff","#800000"]}, "legend": null},
       "shape": {"field": "m", "type": "nominal", "scale": {"domain": ["Ours","Fasthash","KSH","ITQ"], "range": ["triangle-down","square","M-1,0L1,0M0,-1L0,1M-0.7,-0.7L0.7,0.7M-0.7,0.7L0.7,-0.7","triangle-left"]}, "legend": null}}},
     {"data": {"values": [{"t": "(h)"}]}, "mark": {"type": "text", "font": "Liberation Serif", "fontWeight": "bold", "fontSize": 15, "color": "#000"}, "encoding": {"x": {"datum": 0.06}, "y": {"datum": 0.1}, "text": {"field": "t"}}}
    ]
   }
  ]
 }
 ]
}
]
}
